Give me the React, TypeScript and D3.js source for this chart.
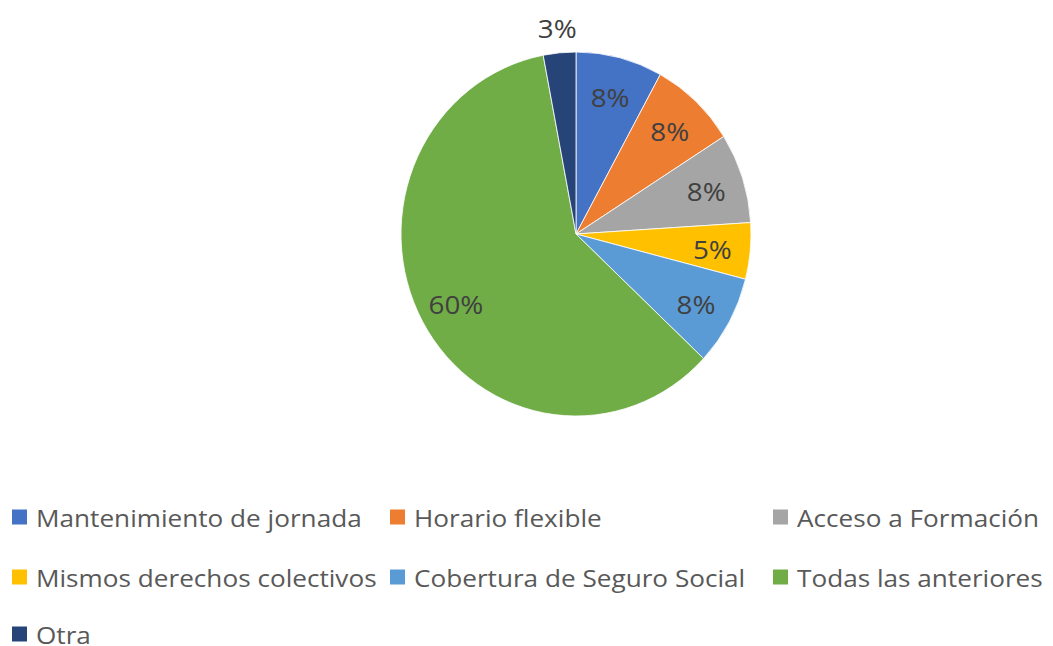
import React from "react";
import * as d3 from "d3";

const categories = [
  "Mantenimiento de jornada",
  "Horario flexible",
  "Acceso a Formación",
  "Mismos derechos colectivos",
  "Cobertura de Seguro Social",
  "Todas las anteriores",
  "Otra",
];
const values = [8, 8, 8, 5, 8, 60, 3];
const colors = ["#4472C4", "#ED7D31", "#A5A5A5", "#FFC000", "#5B9BD5", "#70AD47", "#264478"];
const outsideLabel = [false, false, false, false, false, false, true];

const W = 1053;
const H = 646;
const cx = 576;
const cy = 234;
const rx = 175;
const ry = 182;
const sy = ry / rx;

const legendCols = [12, 390, 773];
const legendRows = [517, 577, 634];

export default function App() {
  const pie = d3.pie<number>().sort(null).value((d) => d);
  const arcs = pie(values);
  const arcGen = d3.arc<d3.PieArcDatum<number>>().innerRadius(0).outerRadius(rx);
  const total = d3.sum(values);
  const font = "'Open Sans', sans-serif";

  return (
    <svg
      width={W}
      height={H}
      viewBox={`0 0 ${W} ${H}`}
      style={{ position: "absolute", left: 0, top: 0, background: "#fff" }}
    >
      <g transform={`translate(${cx},${cy}) scale(1,${sy})`}>
        {arcs.map((a, i) => (
          <path key={i} d={arcGen(a) || ""} fill={colors[i]} stroke="#fff" strokeWidth={0.8} />
        ))}
      </g>
      <g transform={`translate(${cx},${cy})`}>
        {arcs.map((a, i) => {
          const mid = (a.startAngle + a.endAngle) / 2;
          const r = outsideLabel[i] ? 200 : 137;
          const x = Math.sin(mid) * r;
          const y = -Math.cos(mid) * r * sy;
          const pct = Math.round((values[i] / total) * 100) + "%";
          return (
            <text
              key={i}
              transform={`translate(${x},${y + 1}) scale(1.07,1)`}
              textAnchor="middle"
              dominantBaseline="central"
              fontFamily={font}
              fontSize={26}
              fill="#404040"
            >
              {pct}
            </text>
          );
        })}
      </g>
      <g>
        {categories.map((c, i) => {
          const col = i % 3;
          const row = Math.floor(i / 3);
          const x = legendCols[col];
          const y = legendRows[row];
          return (
            <g key={i} transform={`translate(${x},${y})`}>
              <rect x={0} y={-7.5} width={15} height={15} fill={colors[i]} />
              <text
                transform="translate(24,0) scale(1.09,1)"
                dominantBaseline="central"
                fontFamily={font}
                fontSize={24}
                fill="#595959"
              >
                {c}
              </text>
            </g>
          );
        })}
      </g>
    </svg>
  );
}
